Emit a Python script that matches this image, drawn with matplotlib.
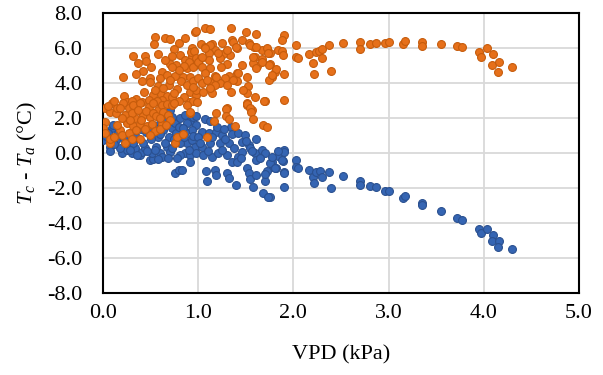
import matplotlib
matplotlib.use("Agg")
import matplotlib.pyplot as plt

# Orange series (x = VPD kPa, y = Tc - Ta)
orange_pts = [
    (1.90,6.74),(1.88,6.46),(1.84,5.89),(1.88,5.85),(1.89,5.6),(1.81,4.65),(1.82,4.78),(1.90,4.51),(1.77,4.36),(1.90,3.03),
    (2.03,6.17),(2.03,5.47),(2.05,5.45),(2.16,5.64),(2.21,5.16),(2.22,4.51),(2.24,5.75),(2.27,5.85),(2.30,5.94),(2.30,5.41),
    (2.37,6.17),(2.40,4.69),(2.52,6.30),(2.70,6.33),(2.70,5.94),(2.80,6.21),(2.87,6.30),(2.96,6.27),(3.00,6.34),(3.15,6.23),
    (3.17,6.40),(3.35,6.34),(3.35,6.11),(3.55,6.21),(3.72,6.13),(3.77,6.04),(3.95,5.75),(3.97,5.5),(4.03,6.02),(4.10,5.66),
    (4.09,5.03),(4.16,5.2),(4.15,4.65),(4.30,4.9),(1.75,5.7),(1.75,5.1),
    (0.55,6.65),(0.54,6.21),(0.65,6.59),(0.70,6.51),(0.80,6.30),(0.86,6.59),(0.97,6.93),(0.93,5.98),(0.75,5.94),(0.31,5.54),
    (0.44,5.56),(0.45,5.26),(0.58,5.64),(0.37,5.13),(0.50,4.90),(0.42,4.69),(0.35,4.5),(0.21,4.33),(0.41,4.13),(0.49,4.27),
    (0.49,4.07),(0.62,4.65),(0.60,4.27),(0.67,4.46),(0.69,3.89),(0.58,3.85),(0.70,5.07),(0.77,5.03),(0.72,5.56),(0.81,5.6),
    (0.86,5.31),(0.76,4.4),(0.84,4.36),(0.88,4.84),(0.91,4.36),(0.94,5.56),(0.97,5.03),(0.78,3.66),(0.91,3.5),(0.98,3.31),
    (0.22,3.26),(0.43,3.47),(0.52,3.31),(0.61,3.35),(0.67,3.27),(0.72,3.22),(0.90,2.9),(0.09,2.84),(0.25,2.9),(0.41,2.9),
    (0.48,3.03),(0.62,3.03),
    (0.92,5.75),(0.96,5.85),(0.98,5.45),(0.90,5.2),(0.95,4.9),(0.85,5.0),(0.80,4.75),(0.73,4.9),(0.65,5.3),(0.82,4.1),
    (0.88,3.9),(0.95,4.1),(0.70,4.2),(0.55,3.6),(0.63,3.7),(0.75,3.45),(0.85,3.2),(0.95,3.0),(0.80,2.95),(0.57,2.95),
    (0.35,3.1),(0.30,2.95),
    (1.07,7.12),(1.12,7.09),(1.34,7.16),(1.50,6.93),(1.61,6.8),(0.98,6.97),(1.03,6.21),(1.07,6.07),(1.15,6.21),(1.25,6.3),
    (1.35,6.46),(1.46,6.46),(1.41,5.98),(1.53,6.27),(1.59,6.04),(1.67,5.89),(1.72,5.98),(1.73,5.70),(1.60,5.50),(1.67,5.37),
    (1.62,4.97),(1.58,5.13),(1.74,5.03),(1.61,4.84),(1.46,5.03),(1.41,4.55),(1.41,4.13),(1.32,4.40),(1.30,5.07),(1.33,5.6),
    (1.26,5.64),(1.23,5.41),(1.18,5.89),(1.11,5.70),(1.03,5.45),(1.11,5.31),(1.00,5.22),(1.04,4.93),(1.12,4.87),(1.24,4.93),
    (1.07,4.55),(1.18,4.42),(1.28,4.27),(1.00,4.27),(1.12,4.07),(1.23,3.98),(1.04,3.98),(1.52,3.85),(1.74,4.17),(0.98,3.6),
    (1.05,3.47),(1.14,3.45),(1.34,3.47),(1.51,3.41),(1.60,3.22),(1.70,2.97),(1.51,2.84),
    (1.54,6.17),(1.61,6.07),(1.37,6.36),(1.40,6.07),(1.30,5.89),(1.21,5.70),(1.12,6.17),(1.07,5.98),(1.04,5.5),(1.58,5.5),
    (1.67,5.22),(1.77,4.46),(1.51,4.36),(1.42,4.55),(1.37,4.17),(1.30,3.89),(1.47,3.6),(1.19,4.36),(1.18,3.89),(1.09,4.17),
    (0.95,3.79),(1.12,3.7),(1.51,2.74),(1.56,2.46),(1.30,2.55),(1.19,2.27),
    (0.02,2.55),(0.07,2.36),(0.14,2.27),(0.21,2.84),(0.23,2.17),(0.27,2.55),(0.32,2.74),(0.39,2.84),(0.48,2.65),(0.53,2.84),
    (0.58,2.46),(0.62,2.74),(0.67,2.8),(0.72,2.74),(0.75,2.84),(0.88,2.74),(0.91,2.3),(0.63,2.36),(0.34,1.98),(0.42,2.17),
    (0.49,2.07),(0.25,1.70),(0.32,1.54),(0.39,1.66),(0.46,1.54),(0.51,1.66),(0.62,1.66),(0.55,1.27),(0.02,1.79),(0.00,1.41),
    (0.02,1.12),(0.18,1.31),(0.20,1.03),(0.27,1.12),(0.23,0.55),(0.30,0.78),(0.39,0.78),(0.49,1.03),(0.07,0.59),(0.07,0.78),
    (0.76,0.55),(0.78,0.93),(0.84,1.09),
    (0.30,2.3),(0.37,2.45),(0.45,2.4),(0.52,2.3),(0.56,2.1),(0.60,2.0),(0.68,2.2),(0.70,1.9),(0.40,1.9),(0.28,1.9),
    (0.20,2.0),(0.15,1.6),(0.35,1.3),(0.44,1.35),(0.60,1.4),(0.66,1.6),(0.12,0.9),(0.15,2.6),(0.05,2.7),(0.12,3.0),
    (0.18,2.6),
    (0.99,2.93),(1.17,1.85),(1.29,2.5),(1.29,2.11),(1.32,1.94),(1.39,1.54),(1.51,2.8),(1.54,2.55),(1.55,2.36),(1.58,1.94),
    (1.68,1.6),(1.72,1.5),(1.69,2.99),(1.09,0.9),(0.91,2.33),
]

# Blue series
blue_pts = [
    (1.90,0.17),(1.88,0.02),(1.84,-0.17),(1.89,-0.46),(1.77,-0.5),(1.79,-0.78),(1.82,-0.84),(1.90,-1.1),(1.90,-1.96),(1.75,-2.5),
    (2.03,-0.4),(2.03,-0.78),(2.05,-0.88),(2.16,-0.97),(2.21,-1.35),(2.22,-1.73),(2.24,-1.07),(2.28,-1.03),(2.30,-1.35),(2.37,-1.07),
    (2.40,-1.98),(2.52,-1.3),(2.70,-1.6),(2.70,-1.83),(2.80,-1.87),(2.87,-1.96),(2.96,-2.15),(3.00,-2.17),(3.15,-2.55),(3.17,-2.46),
    (3.35,-2.84),(3.35,-2.97),(3.55,-3.3),(3.72,-3.7),(3.77,-3.83),(3.95,-4.34),(3.97,-4.55),(4.03,-4.32),(4.10,-4.69),(4.09,-5.03),
    (4.16,-5.03),(4.15,-5.35),(4.30,-5.49),
    (0.09,1.41),(0.05,1.12),(0.00,0.74),(0.07,0.36),(0.07,0.13),(0.16,1.12),(0.14,0.74),(0.20,-0.02),(0.25,0.17),(0.30,-0.02),
    (0.34,0.27),(0.39,-0.11),(0.41,0.07),(0.44,0.27),(0.49,-0.4),(0.53,-0.36),(0.51,-0.02),(0.56,0.36),(0.60,-0.02),(0.62,-0.25),
    (0.67,0.36),(0.70,0.07),(0.69,0.93),(0.72,1.41),(0.76,1.73),(0.81,1.98),(0.86,2.17),(0.91,1.85),(0.95,2.07),(0.98,1.6),
    (0.93,1.31),(0.86,1.22),(0.77,1.12),(0.88,0.55),(0.81,0.55),(0.93,0.74),(0.97,0.36),(0.86,-0.02),(0.81,-0.11),(0.91,-0.11),
    (0.91,-0.5),(0.98,-0.02),(0.76,-1.12),(0.80,-0.97),(0.83,-0.97),(0.63,1.31),(0.58,0.93),(0.42,0.55),(0.25,0.55),(0.32,0.55),
    (0.70,2.46),(0.65,1.89),
    (0.35,0.9),(0.45,1.2),(0.55,1.5),(0.50,0.8),(0.60,1.1),(0.40,1.4),(0.28,0.2),(0.36,-0.1),(0.46,0.1),(0.55,0.2),
    (0.65,0.6),(0.72,0.3),(0.75,0.8),(0.85,0.9),(0.90,0.2),(0.78,-0.3),(0.68,-0.3),(0.58,-0.35),(0.22,0.8),(0.18,0.3),
    (0.12,0.5),(0.03,1.0),(0.10,1.6),(0.60,1.7),(0.50,1.3),(0.80,1.5),(0.88,1.7),(0.95,1.0),(0.73,2.05),(0.84,1.45),
    (0.98,2.11),(1.07,1.93),(1.12,1.85),(1.04,1.22),(1.00,0.93),(1.11,1.12),(1.19,1.22),(1.25,1.03),(1.34,1.5),(1.35,1.07),
    (1.42,1.12),(1.49,1.03),(1.61,0.78),(1.32,0.55),(1.46,0.65),(1.53,0.46),(1.04,0.36),(1.12,0.55),(1.23,0.55),(1.05,-0.11),
    (1.14,-0.21),(1.21,-0.02),(1.30,-0.11),(1.35,-0.5),(1.42,-0.21),(1.46,0.07),(1.54,0.27),(1.60,-0.02),(1.67,0.17),(1.70,-0.02),
    (1.61,-0.4),(1.75,-0.55),(1.72,-1.01),(1.81,-0.88),(1.88,-0.4),(1.90,0.07),(1.90,-1.12),(1.18,-0.97),(1.19,-1.26),(1.30,-1.12),
    (1.32,-1.45),(1.51,-0.88),(1.53,-1.16),(1.54,-1.5),(1.61,-1.26),(1.70,-1.58),(1.58,-1.93),(1.68,-2.3),(1.73,-2.5),(1.40,-1.83),
    (1.09,-1.58),(1.41,-0.5),
    (1.15,0.9),(1.28,0.8),(1.38,0.3),(1.25,0.2),(1.10,0.1),(1.50,0.7),(1.57,0.1),(1.65,-0.3),(1.45,-0.3),(1.02,0.6),
    (1.20,1.5),(1.27,1.35),(1.08,-1.0),(1.70,-1.2),(1.78,-0.2),(1.84,0.1),
]

x_ticks = [0, 1, 2, 3, 4, 5]
y_ticks = [-8, -6, -4, -2, 0, 2, 4, 6, 8]

plt.rcParams['font.family'] = ['Liberation Serif', 'DejaVu Serif']
plt.rcParams['mathtext.fontset'] = 'custom'
plt.rcParams['mathtext.rm'] = 'Liberation Serif'
plt.rcParams['mathtext.it'] = 'Liberation Serif:italic'

fig = plt.figure(figsize=(6.03, 3.75), dpi=100)
ax = fig.add_axes([103/603, 1-293/375, 476/603, 280/375])

bx = [p[0] for p in blue_pts]; by = [p[1] for p in blue_pts]
ox = [p[0] for p in orange_pts]; oy = [p[1] for p in orange_pts]

ax.scatter(bx, by, s=32, facecolor='#3565B3', edgecolor='#2A5090', linewidth=0.8, zorder=3)
ax.scatter(ox, oy, s=32, facecolor='#E6701A', edgecolor='#C65C0C', linewidth=0.8, zorder=4)

ax.set_xlim(0, 5)
ax.set_ylim(-8, 8)
ax.set_xticks(x_ticks)
ax.set_yticks(y_ticks)
ax.set_xticklabels([f"{v:.1f}" for v in x_ticks])
ax.set_yticklabels([f"{v:.1f}" for v in y_ticks])
ax.grid(True, color='#D9D9D9', linewidth=1.3, zorder=0)
ax.set_axisbelow(True)
ax.tick_params(axis='both', length=0, labelsize=16, colors='black')
ax.tick_params(axis='y', pad=15)
ax.tick_params(axis='x', pad=8)
for s in ax.spines.values():
    s.set_color('black')
    s.set_linewidth(1.5)

ax.set_xlabel('VPD (kPa)', fontsize=16, labelpad=16)
ax.set_ylabel(r'$T_c$ - $T_a$ (°C)', fontsize=16, labelpad=6)

fig.savefig('out.png', dpi=100)
